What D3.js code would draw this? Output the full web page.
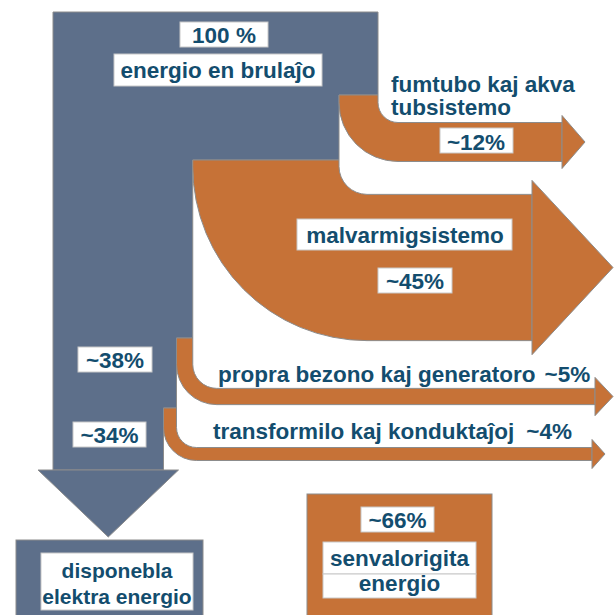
<!DOCTYPE html>
<html><head><meta charset="utf-8">
<script src="https://cdn.jsdelivr.net/npm/d3@7"></script>
<style>
html,body{margin:0;padding:0;background:#fff;}
svg{display:block;}
text{font-family:"Liberation Sans",Arial,sans-serif;font-weight:bold;fill:#134d6e;}
</style></head><body>
<svg id="chart" width="615" height="615"></svg>
<script>
// Energy flow of a thermal power plant, in percent of the fuel energy
const inputValue = 100;
const inputLabels = ["100 %", "energio en brulaĵo"];
const lossNames = [["fumtubo kaj akva", "tubsistemo"], ["malvarmigsistemo"], ["propra bezono kaj generatoro"], ["transformilo kaj konduktaĵoj"]];
const lossValues = [12, 45, 5, 4];
const lossValueLabels = ["~12%", "~45%", "~5%", "~4%"];
const remainingLabels = ["~38%", "~34%"];
const outputLabels = ["disponebla", "elektra energio"];
const wasteValue = 66;
const wasteValueLabel = "~66%";
const wasteLabels = ["senvalorigita", "energio"];

// colours
const BLUE = "#5d6f8a", ORANGE = "#c67237", EDGE = "#8c8c8c", BOXEDGE = "#c8c8c8";
const FONT = 22.5;

// flow width scale: percent -> pixels
const width = d3.scaleLinear().domain([0, 100]).range([0, 325]);

// remaining energy in the trunk after each branch
const remaining = [inputValue, ...Array.from(d3.cumsum(lossValues), c => inputValue - c)];

const svg = d3.select("#chart");

// trunk geometry
const trunk = {left: 53, top: 12, bottom: 470, tip: 537, over: 15};
// branch placement: where each branch leaves, where its band runs, its inner bend radius and arrow
const branchLayout = [
  {start: 95,  mid: 142,   inner: 20, head: 562, tip: 585, over: 7},
  {start: 160, mid: 267.5, inner: 28, head: 532, tip: 613, over: 14},
  {start: 338, mid: 396.5, inner: 24, head: 595, tip: 613, over: 11},
  {start: 408, mid: 454,   inner: 20, head: 592, tip: 605, over: 8}
];

const rightEdge = v => trunk.left + width(v);

// trunk: stepped column that narrows at every branch
const tp = d3.path();
tp.moveTo(trunk.left, trunk.top);
tp.lineTo(rightEdge(remaining[0]), trunk.top);
branchLayout.forEach((b, i) => {
  tp.lineTo(rightEdge(remaining[i]), b.start);
  tp.lineTo(rightEdge(remaining[i + 1]), b.start);
});
tp.lineTo(rightEdge(remaining[remaining.length - 1]), trunk.bottom);
tp.lineTo(trunk.left, trunk.bottom);
tp.closePath();
svg.append("path").attr("d", tp.toString())
  .attr("fill", BLUE).attr("stroke", EDGE).attr("stroke-width", 1);

// trunk arrow head
const trunkMid = (trunk.left + rightEdge(remaining[remaining.length - 1])) / 2;
const ta = d3.path();
ta.moveTo(trunk.left - trunk.over, trunk.bottom);
ta.lineTo(rightEdge(remaining[remaining.length - 1]) + trunk.over, trunk.bottom);
ta.lineTo(trunkMid, trunk.tip);
ta.closePath();
svg.append("path").attr("d", ta.toString())
  .attr("fill", BLUE).attr("stroke", EDGE).attr("stroke-width", 1);

// branches: vertical start, concentric bend, horizontal band, arrow head
lossValues.forEach((v, i) => {
  const b = branchLayout[i];
  const w = width(v);
  const xOuter = rightEdge(remaining[i + 1]);
  const xInner = rightEdge(remaining[i]);
  const r = b.inner, R = r + w;
  const cx = xOuter + R;
  const cy = b.mid - (R + r) / 2;
  const p = d3.path();
  p.moveTo(xOuter, b.start);
  p.lineTo(xInner, b.start);
  p.lineTo(xInner, cy);
  p.arc(cx, cy, r, Math.PI, Math.PI / 2, true);
  p.lineTo(b.head, cy + r);
  p.lineTo(b.head, cy + R);
  p.lineTo(cx, cy + R);
  p.arc(cx, cy, R, Math.PI / 2, Math.PI, false);
  p.closePath();
  svg.append("path").attr("d", p.toString())
    .attr("fill", ORANGE).attr("stroke", EDGE).attr("stroke-width", 1);

  const h = d3.path();
  h.moveTo(b.head, cy + r - b.over);
  h.lineTo(b.tip, (cy + r + cy + R) / 2);
  h.lineTo(b.head, cy + R + b.over);
  h.closePath();
  svg.append("path").attr("d", h.toString())
    .attr("fill", ORANGE).attr("stroke", EDGE).attr("stroke-width", 1);
});

// output boxes
svg.append("rect").attr("x", 16).attr("y", 540).attr("width", 187).attr("height", 80)
  .attr("fill", BLUE).attr("stroke", EDGE);
svg.append("rect").attr("x", 307).attr("y", 494).attr("width", 185).attr("height", 126)
  .attr("fill", ORANGE).attr("stroke", EDGE);

// white label boxes
const boxes = [
  [180, 22, 88, 25], [114, 54, 208, 32],
  [440, 128, 73, 25],
  [297, 219, 215, 31], [378, 268, 74, 25],
  [78, 347, 74, 25], [73, 422, 73, 25],
  [361, 507, 73, 25],
  [323, 542, 153, 32], [323, 574, 153, 24],
  [41, 553, 152, 57]
];
svg.selectAll("rect.lbl").data(boxes).join("rect").attr("class", "lbl")
  .attr("x", d => d[0]).attr("y", d => d[1]).attr("width", d => d[2]).attr("height", d => d[3])
  .attr("fill", "#fff").attr("stroke", BOXEDGE).attr("stroke-width", 1);

function label(txt, x, y, anchor = "middle", size = FONT) {
  return svg.append("text").attr("x", x).attr("y", y).attr("text-anchor", anchor)
    .attr("font-size", size).text(txt);
}

label(inputLabels[0], 224, 43);
label(inputLabels[1], 218, 78);

label(lossNames[0][0], 391, 92, "start");
label(lossNames[0][1], 391, 115, "start");
label(lossValueLabels[0], 476, 150);

label(lossNames[1][0], 405, 243);
label(lossValueLabels[1], 415, 289);

const t5 = label(lossNames[2][0], 218, 382, "start");
t5.append("tspan").attr("dx", 9).text(lossValueLabels[2]);
const t4 = label(lossNames[3][0], 213, 439, "start");
t4.append("tspan").attr("dx", 12).text(lossValueLabels[3]);

label(remainingLabels[0], 115, 368);
label(remainingLabels[1], 109.5, 443);

label(wasteValueLabel, 397.5, 528);
label(wasteLabels[0], 399.5, 566);
label(wasteLabels[1], 399.5, 591);

label(outputLabels[0], 117, 578, "middle", 21);
label(outputLabels[1], 117, 604, "middle", 21);
</script>
</body></html>
